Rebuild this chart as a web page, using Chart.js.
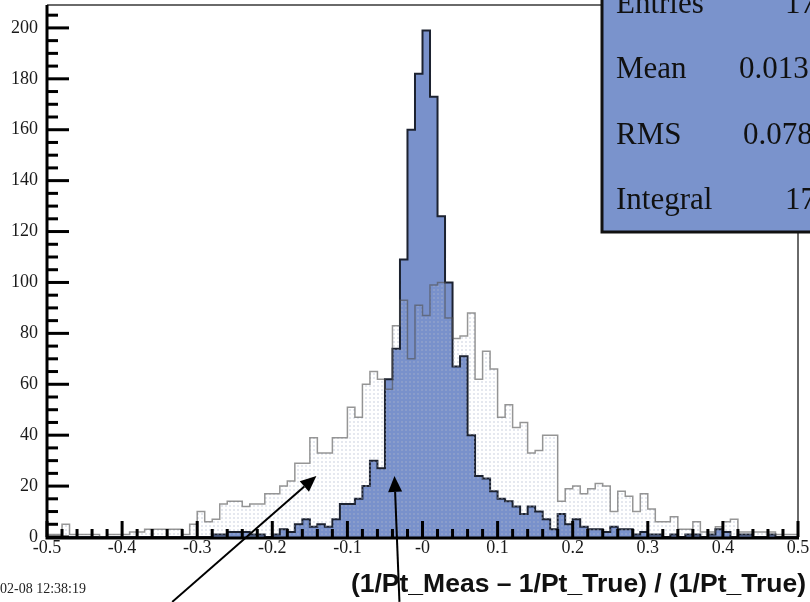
<!DOCTYPE html>
<html>
<head>
<meta charset="utf-8">
<title>Pt resolution</title>
<script src="https://cdn.jsdelivr.net/npm/chart.js@4.4.1/dist/chart.umd.min.js"></script>
<style>
  html, body { margin: 0; padding: 0; background: #fff; }
  #wrap { width: 810px; height: 602px; position: relative; overflow: hidden; }
</style>
</head>
<body>
<div id="wrap"><canvas id="resChart" width="810" height="602"></canvas></div>
<script>
// Histogram range: 100 bins of 0.01 between -0.5 and 0.5
const xMin = -0.5;
const xMax = 0.5;
const binWidth = 0.01;
const yMax = 209;

const xTickLabels = ['-0.5', '-0.4', '-0.3', '-0.2', '-0.1', '-0', '0.1', '0.2', '0.3', '0.4', '0.5'];

// Narrow (filled blue) distribution, counts per bin
const narrowCounts = [
  0, 0, 0, 0, 0, 0, 0, 0, 0, 0,
  0, 0, 0, 0, 0, 0, 0, 0, 0, 0,
  0, 0, 1, 1, 2, 2, 2, 1, 1, 0,
  1, 3, 2, 5, 7, 4, 5, 4, 7, 13,
  13, 15, 20, 30, 27, 62, 74, 109, 160, 182,
  199, 173, 126, 100, 67, 71, 40, 24, 23, 18,
  15, 14, 12, 9, 12, 10, 7, 3, 9, 5,
  7, 4, 3, 3, 2, 4, 3, 3, 1, 2,
  1, 1, 0, 1, 0, 1, 1, 0, 1, 3,
  2, 0, 1, 1, 0, 0, 1, 0, 0, 0
];

// Wide (dotted, grey outline) distribution, counts per bin
const wideCounts = [
  1, 1, 5, 1, 1, 1, 1, 0, 1, 1,
  1, 2, 2, 3, 3, 3, 3, 3, 1, 5,
  10, 6, 7, 13, 14, 14, 12, 13, 13, 17,
  17, 20, 22, 29, 29, 39, 33, 33, 39, 39,
  51, 47, 60, 65, 62, 58, 83, 93, 70, 91,
  87, 99, 100, 86, 78, 79, 88, 62, 73, 66,
  47, 52, 43, 45, 33, 34, 40, 40, 14, 19,
  20, 17, 19, 21, 20, 10, 18, 16, 10, 17,
  11, 6, 6, 8, 3, 3, 6, 2, 2, 4,
  6, 7, 2, 2, 2, 2, 2, 1, 1, 1
];

// Stats panel
const statNames = ['Entries', 'Mean', 'RMS', 'Integral'];
const statValues = ['1736', '0.01331', '0.07812', '1736'];

// Annotation arrows, in axis units (tail, tip)
const arrowTails = [[-0.3333, -25.5], [-0.0307, -25.5]];
const arrowTips = [[-0.1413, 24], [-0.0373, 24]];

const xTitle = '(1/Pt_Meas \u2013 1/Pt_True) / (1/Pt_True)';
const stampText = '02-08 12:38:19';

const statBlue = 'rgb(122,147,204)';

// step outline points: one point per bin left edge, closed down to zero at both ends
function histPoints(counts) {
  const pts = [{ x: xMin, y: 0 }];
  counts.forEach((c, i) => pts.push({ x: xMin + i * binWidth, y: c }));
  pts.push({ x: xMax, y: counts[counts.length - 1] });
  pts.push({ x: xMax, y: 0 });
  return pts;
}

// faint dotted fill used by the wide histogram
function dotPattern() {
  const c = document.createElement('canvas');
  c.width = 4; c.height = 4;
  const g = c.getContext('2d');
  g.fillStyle = 'rgba(175,182,205,0.32)';
  g.fillRect(1, 1, 2, 2);
  return g.createPattern(c, 'repeat');
}

function drawArrow(ctx, x0, y0, x1, y1) {
  const ang = Math.atan2(y1 - y0, x1 - x0);
  const len = 16, half = 7;
  const bx = x1 - len * Math.cos(ang), by = y1 - len * Math.sin(ang);
  ctx.beginPath();
  ctx.moveTo(x0, y0);
  ctx.lineTo(bx, by);
  ctx.stroke();
  ctx.beginPath();
  ctx.moveTo(x1, y1);
  ctx.lineTo(bx + half * Math.sin(ang), by - half * Math.cos(ang));
  ctx.lineTo(bx - half * Math.sin(ang), by + half * Math.cos(ang));
  ctx.closePath();
  ctx.fill();
}

const rootFrame = {
  id: 'rootFrame',
  afterDatasetsDraw(chart) {
    const { ctx, chartArea: a, scales: { x, y } } = chart;
    ctx.save();

    // thin top / right frame
    ctx.strokeStyle = '#3a3a3a';
    ctx.lineWidth = 1.5;
    ctx.beginPath();
    ctx.moveTo(a.left, a.top);
    ctx.lineTo(a.right, a.top);
    ctx.lineTo(a.right, a.bottom);
    ctx.stroke();

    // heavy axes
    ctx.strokeStyle = '#000';
    ctx.lineWidth = 3;
    ctx.beginPath();
    ctx.moveTo(a.left, a.top);
    ctx.lineTo(a.left, a.bottom + 1);
    ctx.lineTo(a.right + 1, a.bottom + 1);
    ctx.stroke();

    // x ticks pointing inward: every 0.02, long at every 0.1
    for (let i = 0; i <= 50; i++) {
      const px = x.getPixelForValue(xMin + i * 0.02);
      const len = i % 5 === 0 ? 16 : 8;
      ctx.beginPath();
      ctx.moveTo(px, a.bottom);
      ctx.lineTo(px, a.bottom - len);
      ctx.stroke();
    }
    // y ticks pointing inward: every 5, long at every 20
    for (let v = 0; v <= yMax; v += 5) {
      const py = y.getPixelForValue(v);
      const len = v % 20 === 0 ? 22 : 11;
      ctx.beginPath();
      ctx.moveTo(a.left, py);
      ctx.lineTo(a.left + len, py);
      ctx.stroke();
    }
    ctx.restore();
  },
  afterDraw(chart) {
    const { ctx, scales: { x, y } } = chart;
    ctx.save();

    // arrows
    ctx.strokeStyle = '#000';
    ctx.fillStyle = '#000';
    ctx.lineWidth = 2;
    arrowTails.forEach((t, i) => {
      const tip = arrowTips[i];
      drawArrow(ctx, x.getPixelForValue(t[0]), y.getPixelForValue(t[1]),
        x.getPixelForValue(tip[0]), y.getPixelForValue(tip[1]));
    });

    // stats panel in the top right corner
    const bx = 602, by = -4, bw = 240, bh = 236;
    ctx.fillStyle = statBlue;
    ctx.fillRect(bx, by, bw, bh);
    ctx.strokeStyle = '#111';
    ctx.lineWidth = 3;
    ctx.strokeRect(bx, by, bw, bh);
    ctx.fillStyle = '#111';
    ctx.font = '31px "Liberation Serif", "DejaVu Serif", serif';
    ctx.textBaseline = 'middle';
    ctx.textAlign = 'left';
    const rowY = [5, 70, 136, 201];
    const valX = [785, 739, 743, 785];
    statNames.forEach((n, i) => {
      ctx.fillText(n, 616, rowY[i]);
      ctx.fillText(statValues[i], valX[i], rowY[i]);
    });

    // axis title
    ctx.font = 'bold 26.5px "Liberation Sans", Arial, sans-serif';
    ctx.textAlign = 'right';
    ctx.textBaseline = 'alphabetic';
    ctx.fillText(xTitle, 806, 592);

    // date stamp
    ctx.font = '14px "Liberation Serif", serif';
    ctx.textAlign = 'left';
    ctx.textBaseline = 'middle';
    ctx.fillStyle = '#222';
    ctx.fillText(stampText, 0, 589);
    ctx.restore();
  }
};

const tickFont = { family: '"Liberation Serif", "DejaVu Serif", serif', size: 18 };

// keep the plot frame fixed: no extra room reserved for overhanging tick labels
function noOverhang(s) {
  s.paddingTop = 0;
  s.paddingBottom = 0;
  s.paddingLeft = 0;
  s.paddingRight = 0;
}

new Chart(document.getElementById('resChart'), {
  type: 'line',
  data: {
    datasets: [
      {
        label: 'narrow',
        data: histPoints(narrowCounts),
        stepped: 'before',
        fill: 'origin',
        backgroundColor: 'rgb(121,145,203)',
        borderColor: '#1c2230',
        borderWidth: 2,
        pointRadius: 0,
        order: 2
      },
      {
        label: 'wide',
        data: histPoints(wideCounts),
        stepped: 'before',
        fill: 'origin',
        backgroundColor: dotPattern(),
        borderColor: 'rgba(80,80,80,0.6)',
        borderWidth: 1.5,
        pointRadius: 0,
        order: 1
      }
    ]
  },
  options: {
    responsive: false,
    animation: false,
    events: [],
    layout: { padding: { top: 5, right: 12, left: 0, bottom: 0 } },
    plugins: {
      legend: { display: false },
      tooltip: { enabled: false }
    },
    scales: {
      x: {
        type: 'linear',
        min: xMin,
        max: xMax,
        grid: { display: false, drawTicks: false },
        border: { display: false },
        ticks: {
          stepSize: 0.1,
          autoSkip: false,
          maxRotation: 0,
          padding: 0,
          color: '#1a1a1a',
          font: tickFont,
          callback: (v, i) => xTickLabels[i]
        },
        afterFit: (s) => { s.height = 65; noOverhang(s); }
      },
      y: {
        min: 0,
        max: yMax,
        grid: { display: false, drawTicks: false },
        border: { display: false },
        ticks: {
          stepSize: 20,
          includeBounds: false,
          padding: 9,
          color: '#1a1a1a',
          font: tickFont
        },
        afterFit: (s) => { s.width = 47; noOverhang(s); }
      }
    }
  },
  plugins: [rootFrame]
});
</script>
</body>
</html>
